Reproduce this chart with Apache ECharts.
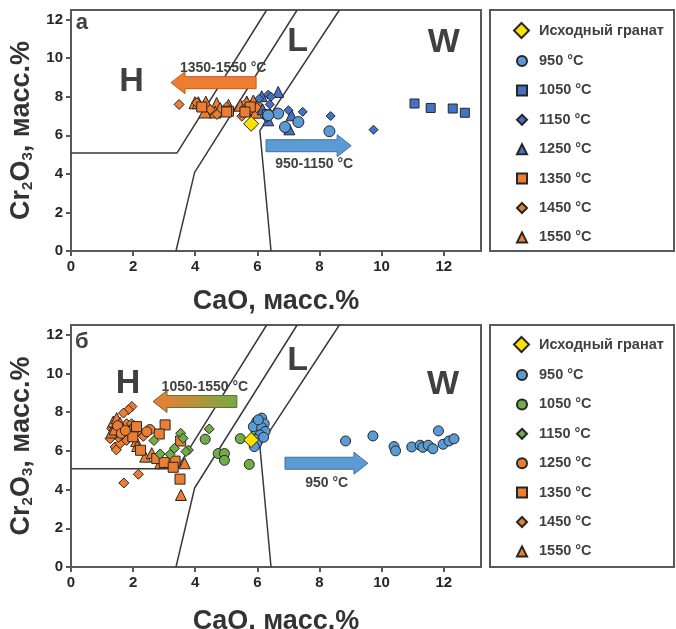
<!DOCTYPE html>
<html>
<head>
<meta charset="utf-8">
<script src="https://cdn.jsdelivr.net/npm/echarts@6/dist/echarts.min.js"></script>
<style>
  html, body { margin: 0; padding: 0; background: #fff; }
  #main { width: 676px; height: 629px; }
</style>
</head>
<body>
<div id="main"></div>
<script>
// граничные линии полей H / L / W (CaO, Cr2O3)
const fieldLine1 = [[0, 5.08], [3.41, 5.08], [6.3, 12.5]]
const fieldLine2 = [[3.38, 0], [3.98, 4.08], [7.28, 12.5]]
const fieldLine3 = [[6.44, 0], [6.08, 6.24], [8.64, 12.5]]

const legendNames = ['Исходный гранат', '950 °C', '1050 °C', '1150 °C', '1250 °C', '1350 °C', '1450 °C', '1550 °C']

// панель а
const garnetA = [[5.8, 6.6]]
const a950 = [[6.67, 7.13], [7.32, 6.69], [6.89, 6.43], [8.32, 6.21], [6.35, 7.04]]
const a1050 = [[11.06, 7.65], [11.58, 7.42], [12.29, 7.39], [12.68, 7.17], [6.3, 7.1]]
const a1150 = [[6.35, 8.11], [6.44, 8.0], [6.06, 7.9], [7.0, 7.3], [7.46, 7.22], [8.36, 7.0], [6.32, 7.13], [6.4, 7.6], [6.3, 6.9], [9.74, 6.29]]
const a1250 = [[6.67, 8.25], [6.14, 8.03], [7.1, 7.04], [7.03, 6.31], [6.35, 6.78], [6.17, 7.35]]
const a1350 = [[4.21, 7.47], [5.07, 7.25], [5.77, 7.47], [5.6, 7.21], [5.01, 7.21]]
const a1450 = [[3.48, 7.6], [4.7, 7.08], [5.5, 6.99], [4.48, 7.34], [5.01, 7.47], [5.98, 7.43], [4.05, 7.69], [5.65, 7.69]]
const a1550 = [[3.99, 7.69], [4.34, 7.72], [4.48, 7.3], [4.69, 7.65], [4.8, 7.39], [5.07, 7.56], [5.45, 7.56], [5.66, 7.73], [5.87, 7.78], [5.81, 7.39], [6.03, 7.65], [5.6, 7.3], [4.64, 7.21], [4.31, 7.21], [4.1, 7.69], [5.95, 7.2]]

// панель б
const garnetB = [[5.8, 6.56]]
const b950 = [[6.14, 7.69], [5.98, 7.51], [6.22, 7.4], [5.87, 7.25], [6.14, 7.2], [6.25, 7.0], [6.09, 6.82], [5.93, 6.6], [5.98, 6.39], [5.9, 6.22], [6.2, 6.7], [6.03, 7.6],
  [8.84, 6.51], [9.72, 6.77], [10.4, 6.22], [10.45, 6.0], [10.97, 6.2], [11.24, 6.29], [11.33, 6.18], [11.5, 6.29], [11.65, 6.11], [11.83, 7.03], [11.98, 6.34], [12.17, 6.51], [12.33, 6.62]]
const b1050 = [[4.32, 6.6], [4.74, 5.86], [4.94, 5.86], [4.94, 5.51], [5.45, 6.63], [5.74, 5.3], [6.04, 7.0], [5.95, 7.05]]
const b1150 = [[2.67, 6.53], [2.87, 5.84], [3.19, 5.82], [3.33, 6.13], [3.53, 6.91], [3.61, 6.65], [3.78, 6.04], [3.7, 5.96], [4.45, 7.13]]
const b1250 = [[2.54, 7.1], [2.44, 6.99], [1.5, 7.3], [1.62, 6.9], [1.75, 7.05]]
const b1350 = [[3.03, 7.34], [2.84, 6.87], [1.99, 6.73], [2.24, 6.03], [2.76, 5.6], [3.0, 5.4], [3.35, 5.47], [3.29, 5.15], [3.53, 6.51], [3.51, 4.54], [2.11, 7.25]]
const b1450 = [[1.26, 6.63], [1.42, 6.2], [1.46, 6.05], [1.58, 6.37], [1.69, 6.89], [1.79, 7.4], [1.95, 7.4], [2.03, 7.3], [1.96, 8.29], [1.85, 8.12], [1.69, 7.95], [1.42, 7.4],
  [1.31, 7.15], [1.53, 6.7], [1.79, 6.54], [2.0, 7.15], [2.14, 6.98], [2.33, 6.75], [1.7, 4.34], [2.17, 4.79]]
const b1550 = [[1.36, 7.51], [1.42, 7.25], [1.52, 7.0], [1.3, 6.95], [1.47, 7.69], [1.58, 7.45], [1.4, 7.1], [2.1, 6.5], [2.13, 6.25], [2.39, 5.7], [2.6, 5.88],
  [2.87, 5.36], [3.41, 5.4], [3.66, 5.36], [3.54, 3.72]]

// подписи и стрелки (в координатах данных)
const fieldLabelsA = [['H', 1.95, 8.77], ['L', 7.3, 10.84], ['W', 12.0, 10.83]]
const fieldLabelsB = [['H', 1.84, 9.49], ['L', 7.3, 10.68], ['W', 11.98, 9.44]]

const BLUE = '#5B9BD5'
const DBLUE = '#4472C4'
const ORANGE = '#ED7D31'
const GREEN = '#70AD47'
const YELLOW = '#FFE100'
const FONT = '"Liberation Sans", Arial, sans-serif'
const TXT = '#404040'

function lineSeries(data, g) {
  return {
    type: 'line', data: data, xAxisIndex: g, yAxisIndex: g, symbol: 'none', silent: true, z: 1,
    lineStyle: { color: '#3a3a3a', width: 1.5 }
  }
}

function pts(name, data, g, symbol, color, size) {
  return {
    type: 'scatter', name: name, data: data, xAxisIndex: g, yAxisIndex: g,
    symbol: symbol, symbolSize: size, z: 3,
    itemStyle: { color: color, borderColor: '#262626', borderWidth: 1, opacity: 1 }
  }
}

function axes(g) {
  return {
    x: {
      gridIndex: g, type: 'value', min: 0, max: 13.2, interval: 2,
      axisLine: { show: true, onZero: false, lineStyle: { color: '#595959', width: 2 } },
      axisTick: { show: true, length: 5, lineStyle: { color: '#595959', width: 2 } },
      axisLabel: { color: '#262626', fontSize: 15, fontWeight: 'bold', fontFamily: FONT, margin: 8, showMaxLabel: false },
      splitLine: { show: false },
      // у нижней панели подпись оси рисуется отдельно (она частично уходит за край)
      name: g === 0 ? 'CaO, масс.%' : '', nameLocation: 'middle', nameGap: 37,
      nameTextStyle: { color: '#333', fontSize: 27, fontWeight: 'bold', fontFamily: FONT }
    },
    y: {
      gridIndex: g, type: 'value', min: 0, max: 12.5, interval: 2,
      axisLine: { show: true, onZero: false, lineStyle: { color: '#595959', width: 2 } },
      axisTick: { show: true, length: 5, lineStyle: { color: '#595959', width: 2 } },
      axisLabel: { color: '#262626', fontSize: 15, fontWeight: 'bold', fontFamily: FONT, margin: 8, showMaxLabel: false },
      splitLine: { show: false },
      name: '{b|Cr}{s|2}{b|O}{s|3}{b|, масс.%}', nameLocation: 'middle', nameGap: 36,
      nameTextStyle: {
        color: '#333', fontFamily: FONT,
        rich: {
          b: { fontSize: 27, fontWeight: 'bold', color: '#333', fontFamily: FONT },
          s: { fontSize: 15, fontWeight: 'bold', color: '#333', fontFamily: FONT, padding: [12, 0, 0, 0] }
        }
      }
    }
  }
}

function legends(prefix, top) {
  const common = {
    orient: 'vertical',
    formatter: function (n) { return n.slice(2) },
    selectedMode: false
  }
  const txt = { color: TXT, fontSize: 14.5, fontWeight: 'bold', fontFamily: FONT, lineHeight: 16 }
  return [
    Object.assign({}, common, {
      left: 508, top: top, itemWidth: 15, itemHeight: 15,
      textStyle: Object.assign({ padding: [0, 0, 0, 5] }, txt),
      data: [prefix + legendNames[0]]
    }),
    Object.assign({}, common, {
      left: 511, top: top + 31, itemWidth: 10, itemHeight: 10, itemGap: 13.4,
      textStyle: Object.assign({ padding: [0, 0, 0, 7] }, txt),
      data: legendNames.slice(1).map(n => prefix + n)
    })
  ]
}

const axA = axes(0)
const axB = axes(1)

const option = {
  animation: false,
  backgroundColor: '#fff',
  grid: [
    { left: 71, top: 10, width: 410, height: 241, show: true, borderColor: '#595959', borderWidth: 2 },
    { left: 71, top: 325, width: 410, height: 242, show: true, borderColor: '#595959', borderWidth: 2 }
  ],
  xAxis: [axA.x, axB.x],
  yAxis: [axA.y, axB.y],
  legend: legends('a:', 17).concat(legends('b:', 331)),
  series: [
    lineSeries(fieldLine1, 0), lineSeries(fieldLine2, 0), lineSeries(fieldLine3, 0),
    pts('a:1550 °C', a1550, 0, 'triangle', ORANGE, 12),
    pts('a:1450 °C', a1450, 0, 'diamond', ORANGE, 10),
    pts('a:1350 °C', a1350, 0, 'rect', ORANGE, 10),
    pts('a:1250 °C', a1250, 0, 'triangle', DBLUE, 11),
    pts('a:1150 °C', a1150, 0, 'diamond', DBLUE, 9),
    pts('a:1050 °C', a1050, 0, 'rect', DBLUE, 9),
    pts('a:950 °C', a950, 0, 'circle', BLUE, 11),
    pts('a:Исходный гранат', garnetA, 0, 'diamond', YELLOW, 15),

    lineSeries(fieldLine1, 1), lineSeries(fieldLine2, 1), lineSeries(fieldLine3, 1),
    pts('b:1450 °C', b1450, 1, 'diamond', ORANGE, 10),
    pts('b:1550 °C', b1550, 1, 'triangle', ORANGE, 11),
    pts('b:1350 °C', b1350, 1, 'rect', ORANGE, 10),
    pts('b:1250 °C', b1250, 1, 'circle', ORANGE, 10),
    pts('b:1150 °C', b1150, 1, 'diamond', GREEN, 10),
    pts('b:1050 °C', b1050, 1, 'circle', GREEN, 10),
    pts('b:950 °C', b950, 1, 'circle', BLUE, 10),
    pts('b:Исходный гранат', garnetB, 1, 'diamond', YELLOW, 15)
  ]
}

const myChart = echarts.init(document.getElementById('main'), null, { renderer: 'canvas' })
myChart.setOption(option)

// стрелки и подписи — через пересчёт координат данных в пиксели
function px(g, x, y) { return myChart.convertToPixel({ gridIndex: g }, [x, y]) }

function arrow(g, xTail, xTip, y, fill, stroke) {
  const t = px(g, xTail, y), p = px(g, xTip, y)
  const dir = p[0] > t[0] ? 1 : -1
  const hb = 6, hh = 11, hl = 14
  const neck = p[0] - dir * hl
  return {
    type: 'polygon', z: 10,
    shape: { points: [[t[0], t[1] - hb], [neck, t[1] - hb], [neck, t[1] - hh], [p[0], t[1]], [neck, t[1] + hh], [neck, t[1] + hb], [t[0], t[1] + hb]] },
    style: { fill: fill, stroke: stroke, lineWidth: 1 }
  }
}

function label(g, text, x, y, size, color) {
  const c = px(g, x, y)
  return {
    type: 'text', z: 12, x: c[0], y: c[1],
    style: { text: text, fill: color || TXT, font: 'bold ' + size + 'px ' + FONT, align: 'center', verticalAlign: 'middle' }
  }
}

const gradient = new echarts.graphic.LinearGradient(0, 0, 1, 0, [
  { offset: 0, color: ORANGE }, { offset: 0.5, color: '#B8923A' }, { offset: 1, color: GREEN }
])

const axisNameB = px(1, 6.6, 0)

const graphics = [
  { type: 'rect', z: 0, shape: { x: 490, y: 10, width: 184, height: 241 }, style: { fill: 'none', stroke: '#595959', lineWidth: 2 } },
  { type: 'rect', z: 0, shape: { x: 490, y: 325, width: 184, height: 242 }, style: { fill: 'none', stroke: '#595959', lineWidth: 2 } },
  arrow(0, 5.96, 3.22, 8.73, ORANGE, '#C55A11'),
  arrow(0, 6.28, 9.02, 5.46, BLUE, '#41719C'),
  arrow(1, 5.34, 2.64, 8.55, gradient, '#6a6a3a'),
  arrow(1, 6.89, 9.56, 5.36, BLUE, '#41719C'),
  label(0, '1350-1550 °C', 4.9, 9.48, 14),
  label(0, '950-1150 °C', 7.83, 4.5, 14),
  label(1, '1050-1550 °C', 4.31, 9.3, 14),
  label(1, '950 °C', 8.23, 4.34, 14),
  label(0, 'а', 0.35, 11.83, 22),
  label(1, 'б', 0.35, 11.62, 22),
  {
    type: 'text', z: 12, x: axisNameB[0], y: axisNameB[1] + 55,
    style: { text: 'CaO, масс.%', fill: '#333', font: 'bold 27px ' + FONT, align: 'center', verticalAlign: 'middle' }
  }
]
fieldLabelsA.forEach(l => graphics.push(label(0, l[0], l[1], l[2], 34)))
fieldLabelsB.forEach(l => graphics.push(label(1, l[0], l[1], l[2], 34)))

myChart.setOption({ graphic: graphics })
</script>
</body>
</html>
